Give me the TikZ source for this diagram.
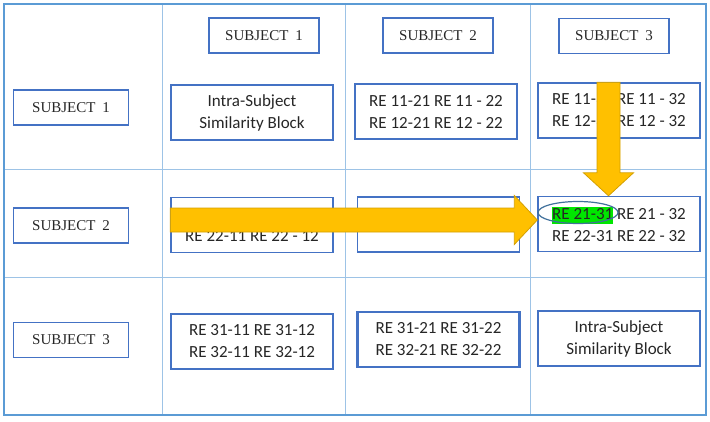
\documentclass[tikz,border=0pt]{standalone}
\usepackage{fontspec}
\setmainfont{Carlito}
\newfontfamily\subjface{Liberation Serif}
\usepackage{xcolor}
\usetikzlibrary{calc}
\definecolor{boxblue}{HTML}{4472C4}
\definecolor{gridblue}{HTML}{9DC3E6}
\definecolor{frameblue}{HTML}{5B9BD5}
\definecolor{arrowfill}{HTML}{FFC000}
\definecolor{arrowedge}{HTML}{D4A000}
\definecolor{ringblue}{HTML}{41719C}
\definecolor{hlgreen}{HTML}{00E600}
\setlength{\fboxsep}{0pt}
\tikzset{
  subj/.style={rectangle, draw=boxblue, line width=1.4pt, inner sep=0pt, text=black!85, font=\subjface\fontsize{15}{18}\selectfont, minimum width=110pt, minimum height=35pt},
  block/.style={rectangle, draw=boxblue, line width=1.4pt, inner sep=0pt, align=center, text=black!85, font=\fontsize{17}{22}\selectfont, minimum width=162pt, minimum height=55pt},
  heavy/.style={line width=2.2pt},
  gridline/.style={draw=gridblue, line width=0.8pt},
  bigarrow/.style={fill=arrowfill, draw=arrowedge, line width=0.8pt},
  ring/.style={draw=ringblue, line width=1.2pt}
}

\begin{document}
\begin{tikzpicture}[x=1pt, y=-1pt]
  \useasboundingbox (0,0) rectangle (710,421);
  % table
  \draw[gridline] (162,4) -- (162,415) (345,4) -- (345,415) (530,4) -- (530,415)
    (4,169) -- (706,169) (4,277) -- (706,277);
  \draw[draw=frameblue, line width=1.5pt] (4,4) rectangle (706,415);
  % column heads
  \node[subj] (c1) at (264,35.5) {SUBJECT\hspace{0.45em}1};
  \node[subj] (c2) at (438,35.5) {SUBJECT\hspace{0.45em}2};
  \node[subj] (c3) at (614,36) {SUBJECT\hspace{0.45em}3};
  % row heads
  \node[subj, minimum width=115pt] (s1) at (71,107.5) {SUBJECT\hspace{0.45em}1};
  \node[subj, minimum width=115pt] (s2) at (71,225.5) {SUBJECT\hspace{0.45em}2};
  \node[subj, minimum width=115pt] (s3) at (71,340) {SUBJECT\hspace{0.45em}3};
  % blocks
  \node[block] (r1c1) at (252,112.5) {Intra-Subject\\Similarity Block};
  \node[block] (r1c2) at (436,111.5) {RE 11-21 RE 11 - 22\\RE 12-21 RE 12 - 22};
  \node[block] (r1c3) at (619,110.5) {RE 11-31 RE 11 - 32\\RE 12-31 RE 12 - 32};
  \node[block] (r2c1) at (252,225) {\phantom{RE}\\RE 22-11 RE 22 - 12};
  \node[block] (r2c2) at (438.5,224.5) {};
  \node[block] (r2c3) at (619,224) {\colorbox{hlgreen}{\rule[-4.5pt]{0pt}{17pt}RE 21-31} RE 21 - 32\\RE 22-31 RE 22 - 32};
  \node[block, heavy] (r3c1) at (252,341.5) {RE 31-11 RE 31-12\\RE 32-11 RE 32-12};
  \node[block, heavy] (r3c2) at (438.5,339.5) {RE 31-21 RE 31-22\\RE 32-21 RE 32-22};
  \node[block] (r3c3) at (619,338.5) {Intra-Subject\\Similarity Block};
  % arrows
  \coordinate (vtip) at ($(r2c3.north)+(-10.5,0)$);
  \coordinate (vtail) at (vtip |- r1c3.north);
  \draw[bigarrow] ($(vtail)+(-11.5,0)$) -- ($(vtip)+(-11.5,-23)$) -- ($(vtip)+(-25,-23)$) -- (vtip)
    -- ($(vtip)+(25,-23)$) -- ($(vtip)+(11.5,-23)$) -- ($(vtail)+(11.5,0)$) -- cycle;
  \coordinate (htip) at ($(r2c3.west)+(0,-4)$);
  \coordinate (htail) at (htip -| r2c1.west);
  \draw[bigarrow] ($(htail)+(0,-12)$) -- ($(htip)+(-23,-12)$) -- ($(htip)+(-23,-24.5)$) -- (htip)
    -- ($(htip)+(-23,24.5)$) -- ($(htip)+(-23,12)$) -- ($(htail)+(0,12)$) -- cycle;
  \draw[ring] ($(r2c3.center)+(-41,-11.5)$) ellipse [x radius=40, y radius=11];
\end{tikzpicture}
\end{document}
